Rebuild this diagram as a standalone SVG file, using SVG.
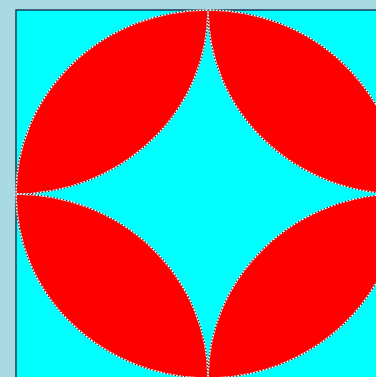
<svg xmlns="http://www.w3.org/2000/svg" width="376" height="377" viewBox="0 0 376 377">
<style>
.lens{fill:#ff0000;stroke:none}
.edgew{fill:none;stroke:#ffffff;stroke-width:1.4}
.edged{fill:none;stroke:#3a2a2a;stroke-width:1.2;stroke-dasharray:1.6 1.6}
</style>
<defs>
<path id="tl" d="M16,194 A192,184 0 0,1 208,10 A192,184 0 0,1 16,194 Z"/>
<path id="tr" d="M208,10 A192,184 0 0,1 400,194 A192,184 0 0,1 208,10 Z"/>
<path id="br" d="M400,194 A192,184 0 0,1 208,378 A192,184 0 0,1 400,194 Z"/>
<path id="bl" d="M208,378 A192,184 0 0,1 16,194 A192,184 0 0,1 208,378 Z"/>
</defs>
<rect x="0" y="0" width="376" height="377" fill="#a9d9e2"/>
<rect x="16" y="10" width="384" height="368" fill="#00ffff" stroke="#1c3a55" stroke-width="1.5"/>
<g id="lens-tl"><use href="#tl" class="lens"/><use href="#tl" class="edgew"/><use href="#tl" class="edged"/></g>
<g id="lens-tr"><use href="#tr" class="lens"/><use href="#tr" class="edgew"/><use href="#tr" class="edged"/></g>
<g id="lens-br"><use href="#br" class="lens"/><use href="#br" class="edgew"/><use href="#br" class="edged"/></g>
<g id="lens-bl"><use href="#bl" class="lens"/><use href="#bl" class="edgew"/><use href="#bl" class="edged"/></g>
<g id="connectors"></g>
</svg>
